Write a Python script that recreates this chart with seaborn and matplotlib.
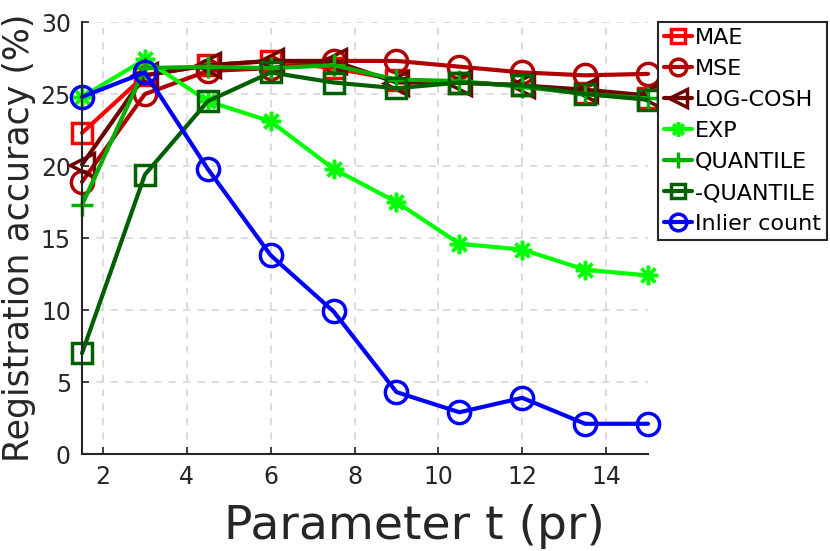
import pandas as pd
import matplotlib
matplotlib.use("Agg")
import matplotlib.pyplot as plt
import seaborn as sns

# parameter t values
t_values = [1.5, 3, 4.5, 6, 7.5, 9, 10.5, 12, 13.5, 15]

# registration accuracy (%) per loss
mae = [22.3, 26.3, 27.0, 27.3, 26.8, 26.0, 25.8, 25.6, 25.1, 24.7]
mse = [18.9, 25.0, 26.6, 26.8, 27.3, 27.3, 26.9, 26.5, 26.3, 26.4]
log_cosh = [20.1, 26.3, 27.0, 27.3, 27.3, 25.8, 25.8, 25.6, 25.3, 24.9]
exp_loss = [24.8, 27.4, 24.5, 23.1, 19.8, 17.5, 14.6, 14.2, 12.8, 12.4]
quantile = [17.3, 26.8, 26.9, 26.8, 27.0, 26.0, 25.9, 25.5, 25.0, 24.7]
neg_quantile = [7.0, 19.4, 24.5, 26.5, 25.8, 25.4, 25.8, 25.6, 25.0, 24.6]
inlier_count = [24.8, 26.5, 19.8, 13.8, 9.9, 4.3, 2.9, 3.9, 2.1, 2.1]

series = [
    ("MAE", mae, "#ff0000", "s", 14),
    ("MSE", mse, "#b00000", "o", 16),
    ("LOG-COSH", log_cosh, "#700000", "<", 17),
    ("EXP", exp_loss, "#00ff00", (8, 2, 0), 14),
    ("QUANTILE", quantile, "#00b000", "+", 16),
    ("-QUANTILE", neg_quantile, "#006000", "s", 14),
    ("Inlier count", inlier_count, "#0000ff", "o", 16),
]

sns.set_style("white")
plt.rcParams["font.family"] = ["DejaVu Sans"]

fig = plt.figure(figsize=(8.3, 5.51), dpi=100)
ax = fig.add_axes([0.0988, 0.176, 0.682, 0.784])

for name, values, color, marker, msize in series:
    df = pd.DataFrame({"t": t_values, "acc": values})
    sns.lineplot(data=df, x="t", y="acc", ax=ax, label=name, color=color,
                 marker=marker, markersize=msize, markerfacecolor="none",
                 markeredgecolor=color, markeredgewidth=2.5, linewidth=3,
                 clip_on=False)

ax.set_xlim(1.5, 15)
ax.set_ylim(0, 30)
ax.set_xticks([2, 4, 6, 8, 10, 12, 14])
ax.set_yticks([0, 5, 10, 15, 20, 25, 30])
ax.grid(True, linestyle=(0, (4, 4)), color="#d9d9d9", linewidth=1.3)
ax.set_axisbelow(True)

for side in ["top", "right"]:
    ax.spines[side].set_visible(False)
for side in ["left", "bottom"]:
    ax.spines[side].set_color("#262626")
    ax.spines[side].set_linewidth(1.5)

ax.tick_params(direction="in", length=5, width=1.2, colors="#262626",
               labelsize=17, bottom=True, left=True, pad=8)

ax.set_xlabel("Parameter t (pr)", fontsize=34, color="#262626")
ax.xaxis.set_label_coords(0.588, -0.115, transform=ax.transAxes)
ax.xaxis.label.set_va("top")
ax.set_ylabel("Registration accuracy (%)", fontsize=25, color="#262626",
              labelpad=3)

leg = ax.legend(loc="upper left", bbox_to_anchor=(658 / 830, 1 - 22 / 551),
                bbox_transform=fig.transFigure, borderaxespad=0,
                fontsize=16, frameon=True, fancybox=False,
                edgecolor="#262626", framealpha=1, handlelength=1.3,
                handletextpad=0.12, labelspacing=0.5, borderpad=0.25,
                markerscale=0.75, labelcolor="black")
leg.get_frame().set_linewidth(1.5)

fig.savefig("out.png", dpi=100)
